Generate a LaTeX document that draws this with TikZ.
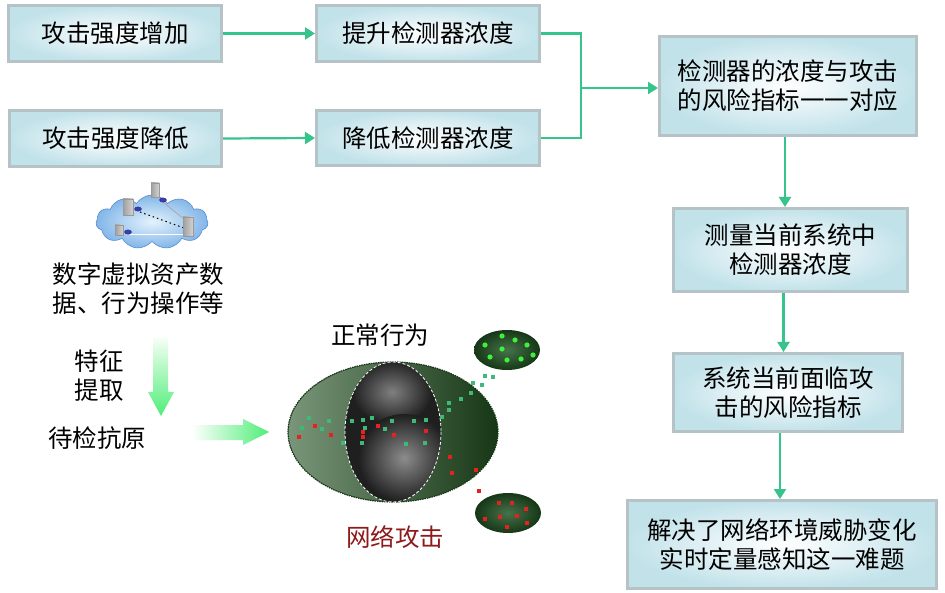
\documentclass[tikz,border=0pt]{standalone}
\usepackage{fontspec}
\setmainfont{Noto Sans CJK SC}
\usetikzlibrary{arrows.meta,shapes.geometric,shapes.symbols}
\definecolor{arrowc}{HTML}{36C48C}
\definecolor{boxedge}{HTML}{B5C3C6}
\definecolor{boxfill}{HTML}{C2E2EA}
\definecolor{dkgreen}{HTML}{163716}
\definecolor{ltgreen}{HTML}{7A967A}
\definecolor{gmark}{HTML}{3DBB76}
\definecolor{rmark}{HTML}{E32222}
\definecolor{bright}{HTML}{3CF03C}
\definecolor{fadegreen}{HTML}{4EEE78}
\definecolor{atk}{HTML}{8E1B1B}
\definecolor{cloudin}{HTML}{E4F2FC}
\definecolor{cloudout}{HTML}{82B6E8}
\definecolor{clouddraw}{HTML}{5A8CD2}
\definecolor{netblue}{HTML}{3C3CAA}
\definecolor{netdraw}{HTML}{28288C}
\definecolor{ellin}{HTML}{46734A}
\begin{document}
\begin{tikzpicture}[x=1pt,y=-1pt,
  flowbox/.style={draw=boxedge,line width=3pt,inner color=white,outer color=boxfill,
    inner sep=0pt,align=center,font=\fontsize{24.5}{29}\selectfont},
  flowarrow/.style={draw=arrowc,line width=2.2pt,-{Triangle[length=10pt,width=12pt]}},
  flowline/.style={draw=arrowc,line width=2.2pt},
  lbl/.style={inner sep=0pt,align=center,font=\fontsize{24.5}{29}\selectfont},
  gsq/.style={fill=gmark},
  rsq/.style={fill=rmark}]
\useasboundingbox (0,0) rectangle (945,593);
\fill[white] (0,0) rectangle (945,593);

% flow boxes
\node[flowbox,minimum width=213pt,minimum height=56pt] (b1) at (115,33.5) {攻击强度增加};
\node[flowbox,minimum width=212pt,minimum height=56pt] (b2) at (115.5,138.5) {攻击强度降低};
\node[flowbox,minimum width=223pt,minimum height=56pt] (b3) at (428,33.5) {提升检测器浓度};
\node[flowbox,minimum width=223pt,minimum height=55pt] (b4) at (428,138) {降低检测器浓度};
\node[flowbox,minimum width=257pt,minimum height=99pt] (b5) at (788,86) {检测器的浓度与攻击\\的风险指标一一对应};
\node[flowbox,minimum width=234pt,minimum height=83pt] (b6) at (790.5,250) {测量当前系统中\\检测器浓度};
\node[flowbox,minimum width=229pt,minimum height=78pt] (b7) at (788,392.5) {系统当前面临攻\\击的风险指标};
\node[flowbox,minimum width=309pt,minimum height=88pt] (b8) at (782,544.5) {解决了网络环境威胁变化\\实时定量感知这一难题};

% connectors
\coordinate (j) at (581,88);
\draw[flowarrow] (b1.east) -- (b3.west);
\draw[flowarrow] (b2.east) -- (b4.west);
\draw[flowline] (b3.east) -| (j);
\draw[flowline] (b4.east) -| (j);
\draw[flowarrow] (j) -- (j -| b5.west);
\draw[flowarrow] ([xshift=-3pt]b5.south) -- ([xshift=-3pt]b5.south |- b6.north);
\draw[flowarrow] ([xshift=-7pt]b6.south) -- ([xshift=-7pt]b6.south |- b7.north);
\draw[flowarrow] ([xshift=-8pt]b7.south) -- ([xshift=-8pt]b7.south |- b8.north);

% cloud icon
\node[cloud,cloud puffs=11,cloud puff arc=115,aspect=2.1,minimum width=112pt,minimum height=54pt,
  inner color=cloudin,outer color=cloudout,draw=clouddraw,line width=0.6pt] (cloud) at (152,222) {};
\draw[gray!70,line width=0.7pt] (163,202) -- (184,219);
\draw[black,line width=1pt,dash pattern=on 1.5pt off 3pt] (140,212) -- (184,228);
\draw[white,line width=0.8pt] (130,234) -- (184,234);
\foreach \xa/\ya/\xb/\yb in {151/183/159/197,123/199/133/215,115/225/123/235,183/217/193/236}
  \shade[left color=gray!75,right color=gray!35,draw=gray!80,line width=0.3pt] (\xa,\ya) rectangle (\xb,\yb);
\foreach \cx/\cy in {163/200,138/209,128/232}
  \filldraw[fill=netblue,draw=netdraw,line width=0.3pt] (\cx,\cy) ellipse [x radius=3.5,y radius=2.2];

\node[lbl] (assets) at (138.5,289) {数字虚拟资产数\\据、行为操作等};
\node[lbl] (feat) at (99,376) {特征\\提取};
\node[lbl] (antigen) at (97,438) {待检抗原};

% gradient arrows
\shade[top color=green!4!white,bottom color=fadegreen]
  (153,338) -- (168,338) -- (168,392) -- (174,392) -- (161,416) -- (148,392) -- (153,392) -- cycle;
\shade[left color=white,right color=fadegreen]
  (192,425) -- (243,425) -- (243,419) -- (269,432) -- (243,445) -- (243,440) -- (192,440) -- cycle;

% big ellipse
\shade[left color=ltgreen,middle color=dkgreen,right color=dkgreen] (393,432) ellipse [x radius=105,y radius=70];
\draw[dkgreen,line width=1.2pt] (393,432) ellipse [x radius=105,y radius=70];
\draw[white,line width=1pt,dash pattern=on 0.8pt off 1.6pt] (393,432) ellipse [x radius=105.6,y radius=70.6];
% inner gray body
\begin{scope}
  \clip (393,432) ellipse [x radius=48,y radius=70];
  \fill[black!88] (393,432) ellipse [x radius=48,y radius=70];
  \shade[inner color=black!50,outer color=black!88] (392,392) ellipse [x radius=40,y radius=32];
  \shade[inner color=black!45,outer color=black!88] (404,458) ellipse [x radius=46,y radius=44];
\end{scope}
\draw[white,line width=0.8pt,dash pattern=on 3pt off 2pt] (393,432) ellipse [x radius=48,y radius=70];

% marks
\foreach \mx/\my in {309/418,302/428,329/421,322/429,343/443,352/421,363/420,372/418,365/428,392/421,385/429,414/421,426/420,362/443,406/444,425/443,442/417,449/403,449/410,461/399,471/393,473/383,482/385,485/376,493/377}
  \fill[gsq] (\mx-1.6,\my-1.6) rectangle (\mx+1.6,\my+1.6);
\foreach \mx/\my in {315/426,299/437,331/435,363/432,363/437,378/426,394/435,426/431,450/457,452/473,476/470,479/491}
  \fill[rsq] (\mx-1.6,\my-1.6) rectangle (\mx+1.6,\my+1.6);

% small ellipses
\shade[inner color=ellin,outer color=dkgreen] (507,350) ellipse [x radius=33,y radius=20];
\foreach \mx/\my in {502/336,515/340,527/345,485/345,502/349,533/355,490/357,507/360,521/359}
  \fill[bright] (\mx,\my) circle (2.6);
\shade[inner color=ellin,outer color=dkgreen] (508,513) ellipse [x radius=33,y radius=20];
\foreach \mx/\my in {499/503,512/503,526/509,485/519,500/517,517/516,527/523,507/527}
  \fill[rmark] (\mx-2.4,\my-2.4) rectangle (\mx+2.4,\my+2.4);

\node[lbl] (normal) at (380,335) {正常行为};
\node[lbl,text=atk] (attack) at (395,537) {网络攻击};
\end{tikzpicture}
\end{document}
